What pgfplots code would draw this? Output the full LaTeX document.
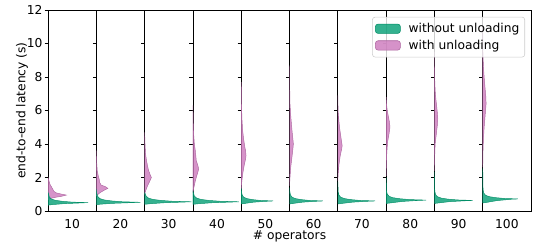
\documentclass[border=0pt]{standalone}
\usepackage{fontspec}
\setmainfont{DejaVu Sans}
\usepackage{pgfplots}
\usepgfplotslibrary{groupplots}
\pgfplotsset{compat=1.18}
\definecolor{gfill}{HTML}{029E73}
\definecolor{pfill}{HTML}{CC78BC}
\pgfplotsset{
  gv/.style={fill=gfill, fill opacity=0.8, draw=gfill!90!black, draw opacity=1, line width=0.35pt, forget plot},
  pv/.style={fill=pfill, fill opacity=0.8, draw=pfill!85!black, draw opacity=1, line width=0.35pt, forget plot},
  myarea/.style={legend image code/.code={\draw[##1] (0pt,-3.5pt) rectangle (18.75pt,3.5pt);}},
}
\begin{document}
\begin{tikzpicture}[font=\fontsize{9.2}{11}\selectfont]
\begin{groupplot}[
  group style={group size=10 by 1, horizontal sep=0pt, group name=g},
  width=36.225pt, height=150.75pt, scale only axis,
  xmin=0, xmax=1, ymin=0, ymax=12,
  ytick={0,2,...,12}, yticklabels={},
  xtick={0.5},
  ytick pos=left,
  tick align=outside,
  major tick length=2.6pt,
  x tick style={draw=none},
  axis line style={line width=0.6pt},
  y tick style={line width=0.6pt, black},
  yticklabel style={xshift=2pt},
  /pgf/number format/assume math mode=true,
  every axis y label/.style={at={(axis description cs:-0.538,0.5)}, rotate=90, anchor=center},
]
% 10
\nextgroupplot[xticklabels={10}, yticklabels={0,2,4,6,8,10,12}, ylabel={end-to-end latency (s)}]
\addplot[pv] coordinates {(0,0.68) (0.05,0.74) (0.12,0.8) (0.28,0.88) (0.38,0.95) (0.26,1.02) (0.17,1.08) (0.12,1.18) (0.1,1.3) (0.07,1.45) (0.04,1.6) (0.02,1.8) (0,2.0)} -- cycle;
\addplot[gv] coordinates {(0,0.35) (0.083,0.38) (0.332,0.44) (0.664,0.48) (0.83,0.50) (0.498,0.53) (0.291,0.58) (0.149,0.64) (0.066,0.72) (0.025,0.85) (0.008,1.05) (0,1.1)} -- cycle;
% 20
\nextgroupplot[xticklabels={20}]
\addplot[pv] coordinates {(0,0.9) (0.03,0.98) (0.08,1.1) (0.17,1.25) (0.24,1.35) (0.19,1.45) (0.1,1.55) (0.07,1.7) (0.06,1.9) (0.04,2.1) (0.02,2.4) (0.01,2.8) (0,3.6)} -- cycle;
\addplot[gv] coordinates {(0,0.38) (0.091,0.41) (0.364,0.46) (0.728,0.50) (0.91,0.52) (0.546,0.55) (0.319,0.60) (0.164,0.66) (0.073,0.74) (0.027,0.87) (0.009,1.07) (0,1.3)} -- cycle;
% 30
\nextgroupplot[xticklabels={30}]
\addplot[pv] coordinates {(0,1.0) (0.02,1.2) (0.06,1.5) (0.11,1.8) (0.14,2.0) (0.11,2.2) (0.08,2.45) (0.06,2.7) (0.04,3.0) (0.02,3.4) (0.01,3.9) (0,4.7)} -- cycle;
\addplot[gv] coordinates {(0,0.40) (0.097,0.43) (0.388,0.49) (0.776,0.53) (0.97,0.55) (0.582,0.58) (0.340,0.63) (0.175,0.69) (0.078,0.77) (0.029,0.90) (0.010,1.05) (0,1.1)} -- cycle;
% 40
\nextgroupplot[xticklabels={40}]
\addplot[pv] coordinates {(0,1.1) (0.02,1.4) (0.05,1.8) (0.09,2.2) (0.12,2.5) (0.1,2.75) (0.07,3.0) (0.06,3.3) (0.05,3.6) (0.03,4.0) (0.015,4.6) (0.005,5.4) (0,6.3)} -- cycle;
\addplot[gv] coordinates {(0,0.40) (0.095,0.43) (0.380,0.49) (0.760,0.53) (0.95,0.55) (0.570,0.58) (0.333,0.63) (0.171,0.69) (0.076,0.77) (0.029,0.90) (0.010,1.10) (0,1.2)} -- cycle;
% 50
\nextgroupplot[xticklabels={50}, xlabel={\# operators}, every axis x label/.style={at={(axis description cs:1,0)}, anchor=center, yshift=-18.75pt}]
\addplot[pv] coordinates {(0,1.3) (0.01,1.7) (0.03,2.2) (0.06,2.7) (0.09,3.1) (0.1,3.3) (0.09,3.6) (0.07,3.9) (0.05,4.3) (0.03,4.8) (0.015,5.5) (0.005,6.5) (0,7.7)} -- cycle;
\addplot[gv] coordinates {(0,0.42) (0.066,0.45) (0.264,0.53) (0.528,0.58) (0.66,0.60) (0.396,0.63) (0.231,0.68) (0.119,0.74) (0.053,0.82) (0.020,0.95) (0.007,1.15) (0,1.35)} -- cycle;
% 60
\nextgroupplot[xticklabels={60}]
\addplot[pv] coordinates {(0,1.5) (0.01,2.0) (0.025,2.6) (0.05,3.2) (0.07,3.7) (0.08,4.0) (0.07,4.3) (0.055,4.7) (0.04,5.2) (0.025,5.7) (0.01,6.4) (0.004,7.4) (0,8.7)} -- cycle;
\addplot[gv] coordinates {(0,0.42) (0.069,0.45) (0.276,0.53) (0.552,0.58) (0.69,0.60) (0.414,0.63) (0.242,0.68) (0.124,0.74) (0.055,0.82) (0.021,0.95) (0.007,1.15) (0,1.4)} -- cycle;
% 70
\nextgroupplot[xticklabels={70}]
\addplot[pv] coordinates {(0,1.8) (0.01,2.3) (0.025,2.8) (0.05,3.3) (0.08,3.7) (0.09,3.9) (0.08,4.1) (0.06,4.5) (0.04,4.9) (0.025,5.3) (0.01,5.8) (0.004,6.3) (0,6.9)} -- cycle;
\addplot[gv] coordinates {(0,0.42) (0.077,0.45) (0.308,0.53) (0.616,0.58) (0.77,0.60) (0.462,0.63) (0.270,0.68) (0.139,0.74) (0.062,0.82) (0.023,0.95) (0.008,1.15) (0,1.75)} -- cycle;
% 80
\nextgroupplot[xticklabels={80}]
\addplot[pv] coordinates {(0,2.1) (0.005,2.8) (0.015,3.5) (0.03,4.1) (0.06,4.6) (0.08,5.0) (0.07,5.3) (0.05,5.6) (0.03,5.9) (0.015,6.2) (0.005,6.5) (0,6.8)} -- cycle;
\addplot[gv] coordinates {(0,0.45) (0.083,0.48) (0.332,0.57) (0.664,0.63) (0.83,0.65) (0.498,0.68) (0.291,0.73) (0.149,0.79) (0.066,0.87) (0.025,1.0) (0.008,1.2) (0,2.0)} -- cycle;
% 90
\nextgroupplot[xticklabels={90}]
\addplot[pv] coordinates {(0,2.4) (0.005,3.2) (0.015,4.0) (0.04,4.6) (0.06,5.1) (0.07,5.5) (0.06,5.9) (0.045,6.3) (0.03,6.7) (0.015,7.2) (0.007,7.8) (0.002,8.6) (0,9.5)} -- cycle;
\addplot[gv] coordinates {(0,0.45) (0.079,0.48) (0.316,0.56) (0.632,0.61) (0.79,0.63) (0.474,0.66) (0.277,0.71) (0.142,0.77) (0.063,0.85) (0.024,0.98) (0.008,1.18) (0,2.35)} -- cycle;
% 100
\nextgroupplot[xticklabels={100},
  legend style={at={(0.876,0.966)}, anchor=north east, draw=black!20, fill=white, fill opacity=0.8, draw opacity=1, text opacity=1, rounded corners=2pt, font=\fontsize{9.2}{11}\selectfont, inner xsep=2pt, inner ysep=2.5pt, /tikz/every odd column/.append style={column sep=4pt}},
  legend cell align=left]
\addplot[pv] coordinates {(0,2.6) (0.005,3.5) (0.015,4.3) (0.03,5.0) (0.05,5.7) (0.07,6.4) (0.065,6.8) (0.05,7.3) (0.035,7.8) (0.02,8.4) (0.01,9.0) (0.004,9.8) (0,11.0)} -- cycle;
\addplot[gv] coordinates {(0,0.48) (0.073,0.51) (0.292,0.62) (0.584,0.70) (0.73,0.72) (0.438,0.75) (0.256,0.80) (0.131,0.86) (0.058,0.94) (0.022,1.07) (0.007,1.27) (0,2.55)} -- cycle;
\addlegendimage{myarea, fill=gfill, fill opacity=0.8, draw=gfill!90!black}
\addlegendentry{without unloading}
\addlegendimage{myarea, fill=pfill, fill opacity=0.8, draw=pfill!85!black}
\addlegendentry{with unloading}
\end{groupplot}
\path ([xshift=-36pt,yshift=-28.5pt]g c1r1.south west) rectangle ([xshift=6.75pt,yshift=7.5pt]g c10r1.north east);
\end{tikzpicture}
\end{document}
